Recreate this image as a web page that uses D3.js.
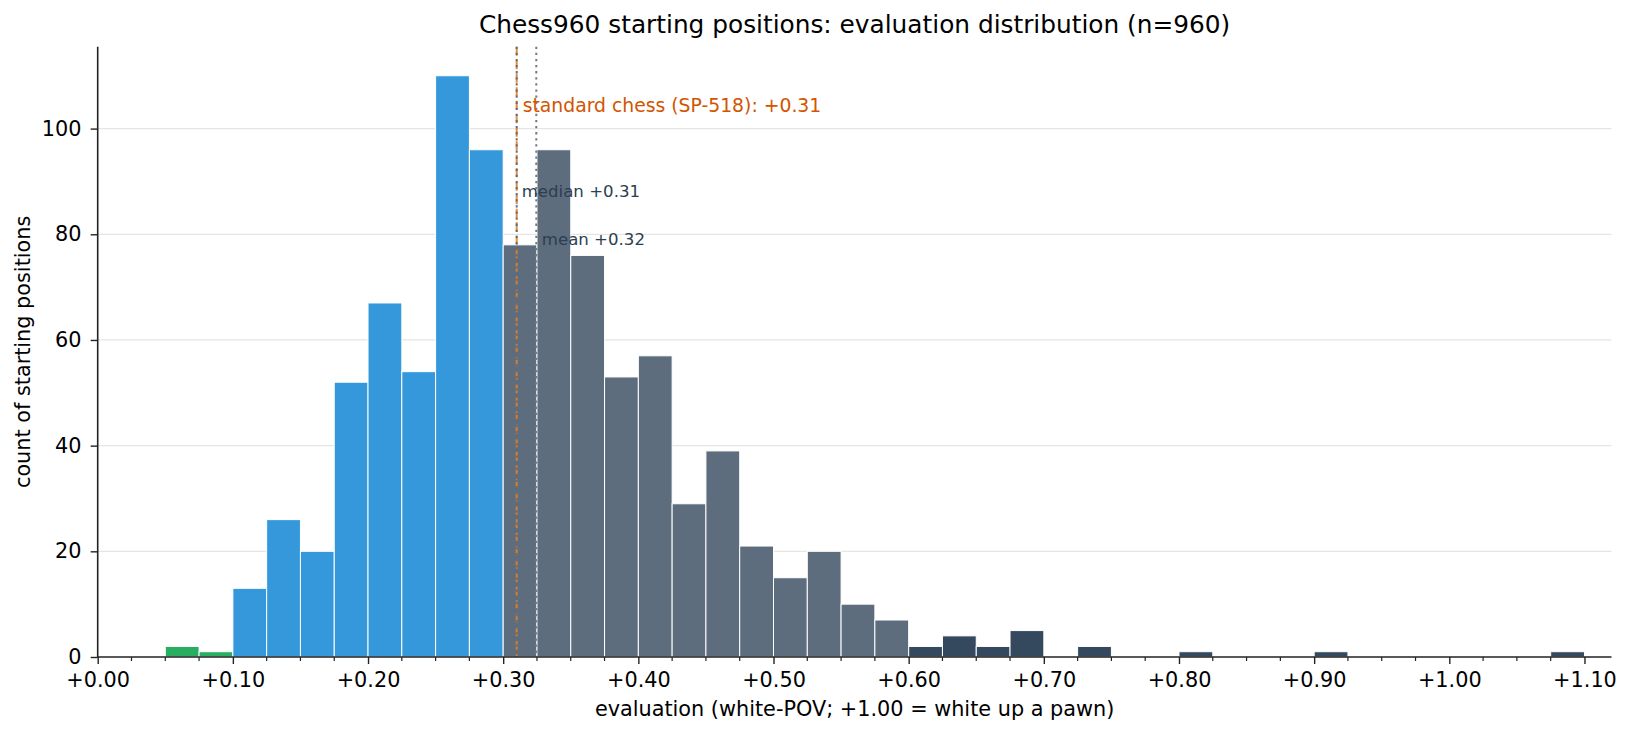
<!DOCTYPE html>
<html>
<head>
<meta charset="utf-8">
<script src="https://cdn.jsdelivr.net/npm/d3@7"></script>
<style>
  body { margin: 0; background: #fff; }
  text { font-family: "DejaVu Sans", sans-serif; }
</style>
</head>
<body>
<div class="module"></div>
<script>
// bin left edges (width 0.025) and counts
const binStart = [0.050, 0.075, 0.100, 0.125, 0.150, 0.175, 0.200, 0.225, 0.250, 0.275,
	0.300, 0.325, 0.350, 0.375, 0.400, 0.425, 0.450, 0.475, 0.500, 0.525,
	0.550, 0.575, 0.600, 0.625, 0.650, 0.675, 0.700, 0.725, 0.750, 0.775,
	0.800, 0.825, 0.850, 0.875, 0.900, 0.925, 0.950, 0.975, 1.000, 1.025,
	1.050, 1.075];
const counts = [2, 1, 13, 26, 20, 52, 67, 54, 110, 96,
	78, 96, 76, 53, 57, 29, 39, 21, 15, 20,
	10, 7, 2, 4, 2, 5, 0, 2, 0, 0,
	1, 0, 0, 0, 1, 0, 0, 0, 0, 0,
	0, 1];
const binWidth = 0.025;

const xTicks = [0, 0.1, 0.2, 0.3, 0.4, 0.5, 0.6, 0.7, 0.8, 0.9, 1.0, 1.1];
const yTicks = [0, 20, 40, 60, 80, 100];

const standardEval = 0.31;
const medianEval = 0.31;
const meanEval = 0.3245;

drawChart(d3.select('.module').node());

function binColor(lo){
	if (lo < 0.10) return '#27ae60';
	if (lo < 0.30) return '#3498db';
	if (lo < 0.60) return '#5d6d7e';
	return '#34495e';
}

function drawChart(rootDOM){
	const W = 1630;
	const H = 735;
	const left = 97.7, right = 1611.5, top = 46.7, bottom = 657;
	const fs = 20.8; // tick + axis label size

	const x = d3.scaleLinear().domain([0, 1.12]).range([left, right]);
	const y = d3.scaleLinear().domain([0, 115.5]).range([bottom, top]);

	const svg = d3.select(rootDOM)
		.append('svg')
		.attr('width', W)
		.attr('height', H);

	// grid
	svg.append('g')
		.selectAll('line')
		.data(yTicks.filter(d => d > 0))
		.enter().append('line')
		.attr('x1', left).attr('x2', right)
		.attr('y1', d => y(d)).attr('y2', d => y(d))
		.style('stroke', '#e5e5e5')
		.style('stroke-width', 1.2);

	const bins = binStart.map((lo, i) => ({lo: lo, n: counts[i]}));

	svg.append('g')
		.selectAll('rect')
		.data(bins.filter(d => d.n > 0))
		.enter().append('rect')
		.attr('x', d => x(d.lo))
		.attr('width', d => x(d.lo + binWidth) - x(d.lo))
		.attr('y', d => y(d.n))
		.attr('height', d => y(0) - y(d.n))
		.style('fill', d => binColor(d.lo))
		.style('stroke', '#fff')
		.style('stroke-width', 1);

	// reference lines
	svg.append('line')
		.attr('x1', x(standardEval)).attr('x2', x(standardEval))
		.attr('y1', top).attr('y2', bottom)
		.style('stroke', '#e67e22')
		.style('stroke-opacity', 0.9)
		.style('stroke-width', 2)
		.style('stroke-dasharray', '9,4.5');
	svg.append('line')
		.attr('x1', x(medianEval)).attr('x2', x(medianEval))
		.attr('y1', top).attr('y2', bottom)
		.style('stroke', '#5d6d7e')
		.style('stroke-width', 2)
		.style('stroke-dasharray', '2.3,3.8');
	svg.append('line')
		.attr('x1', x(meanEval)).attr('x2', x(meanEval))
		.attr('y1', top).attr('y2', bottom)
		.style('stroke', '#707b85')
		.style('stroke-width', 2)
		.style('stroke-dasharray', '2.3,3.8');

	svg.append('text')
		.attr('x', x(standardEval) + 6).attr('y', y(103.1))
		.style('font-size', '18.8px')
		.style('fill', '#d35400')
		.text('standard chess (SP-518): +' + standardEval.toFixed(2));
	svg.append('text')
		.attr('x', x(medianEval) + 5).attr('y', y(87.0))
		.style('font-size', '16.6px')
		.style('fill', '#2c3e50')
		.text('median +' + medianEval.toFixed(2));
	svg.append('text')
		.attr('x', x(meanEval) + 5.5).attr('y', y(77.9))
		.style('font-size', '16.6px')
		.style('fill', '#2c3e50')
		.text('mean +' + meanEval.toFixed(2));

	// axes
	const xAxis = svg.append('g')
		.attr('transform', `translate(0,${bottom})`)
		.call(d3.axisBottom(x).tickValues(xTicks).tickSize(7).tickPadding(8.2)
			.tickFormat(d => '+' + d.toFixed(2)));
	// minor ticks every bin width
	xAxis.append('g')
		.selectAll('line')
		.data(binStart.concat([0.025, 1.1]).filter(d => Math.abs(d * 10 - Math.round(d * 10)) > 1e-6))
		.enter().append('line')
		.attr('x1', d => x(d)).attr('x2', d => x(d))
		.attr('y1', 0).attr('y2', 4)
		.style('stroke', '#222')
		.style('stroke-width', 1.2);
	const yAxis = svg.append('g')
		.attr('transform', `translate(${left},0)`)
		.call(d3.axisLeft(y).tickValues(yTicks).tickSize(7).tickPadding(9.3));

	[xAxis, yAxis].forEach(a => {
		a.select('.domain').style('stroke', '#222').style('stroke-width', 1.6);
		a.selectAll('.tick line').style('stroke', '#222').style('stroke-width', 1.4);
		a.selectAll('.tick text')
			.style('font-family', '"DejaVu Sans", sans-serif')
			.style('font-size', fs + 'px')
			.style('fill', '#000');
	});
	xAxis.select('.domain').attr('d', `M${left},0H${right}`);
	yAxis.select('.domain').attr('d', `M0,${bottom}V${top}`);

	svg.append('text')
		.attr('x', (left + right) / 2).attr('y', 33.3)
		.attr('text-anchor', 'middle')
		.style('font-size', '24.8px')
		.text('Chess960 starting positions: evaluation distribution (n=960)');
	svg.append('text')
		.attr('x', (left + right) / 2).attr('y', 716)
		.attr('text-anchor', 'middle')
		.style('font-size', fs + 'px')
		.text('evaluation (white-POV; +1.00 = white up a pawn)');
	svg.append('text')
		.attr('transform', `translate(29.5,${(top + bottom) / 2}) rotate(-90)`)
		.attr('text-anchor', 'middle')
		.style('font-size', fs + 'px')
		.text('count of starting positions');
}
</script>
</body>
</html>
